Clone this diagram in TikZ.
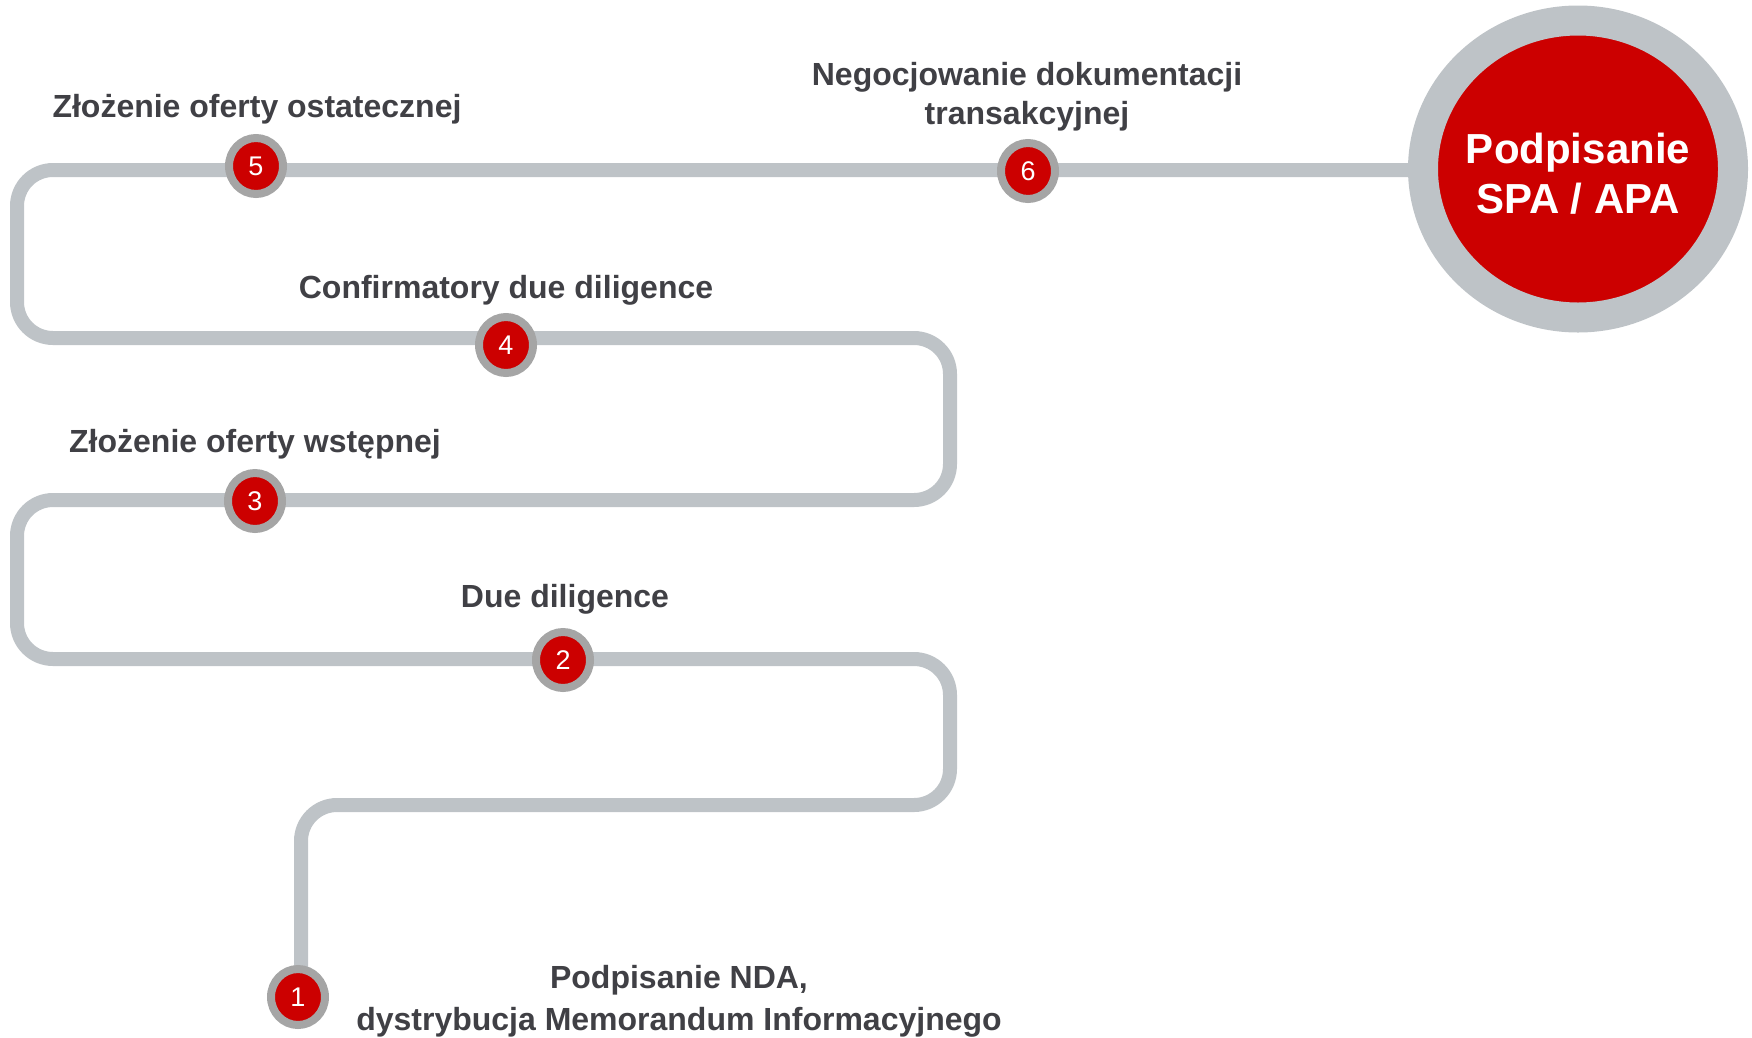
\documentclass[tikz,border=0pt]{standalone}
\usepackage{fontspec}
\setmainfont{Liberation Sans}
\usetikzlibrary{shapes.geometric,backgrounds}
\definecolor{trackgray}{HTML}{BEC3C7}
\definecolor{ringgray}{HTML}{A5A5A5}
\definecolor{stepred}{HTML}{CC0000}
\definecolor{labelgray}{HTML}{404045}
\tikzset{
  track/.style={draw=trackgray, line width=14pt, rounded corners=36pt},
  stepdot/.style={ellipse, draw=ringgray, fill=stepred, line width=8pt,
    minimum width=54pt, minimum height=56pt, inner sep=0pt,
    text=white, font=\fontsize{27}{27}\selectfont},
  bigdot/.style={ellipse, draw=trackgray, fill=stepred, line width=30pt,
    minimum width=310pt, minimum height=297pt, inner sep=0pt},
  steplabel/.style={anchor=base, inner sep=0pt, text=labelgray,
    font=\fontsize{32}{39}\selectfont\bfseries},
  biglabel/.style={anchor=base, inner sep=0pt, text=white,
    font=\fontsize{42}{50}\selectfont\bfseries}
}
\begin{document}
\begin{tikzpicture}[x=1pt,y=-1pt]
\useasboundingbox (0,0) rectangle (1752,1037);
% steps
\node[stepdot] (c1) at (298,997) {1};
\node[stepdot] (c2) at (563,660) {2};
\node[stepdot] (c3) at (255,501) {3};
\node[stepdot] (c4) at (506,345) {4};
\node[stepdot] (c5) at (256,166) {5};
\node[stepdot] (c6) at (1028,171) {6};
\node[bigdot] (big) at (1578,169) {};
% track
\coordinate (t0) at (301,997);
\coordinate (k1) at (301,805);
\coordinate (k2) at (950,805);
\coordinate (k3) at (950,659);
\coordinate (k4) at (17,659);
\coordinate (k5) at (17,500);
\coordinate (k6) at (950,500);
\coordinate (k7) at (950,338);
\coordinate (k8) at (17,338);
\coordinate (k9) at (17,170);
\coordinate (t1) at (1500,170);
\begin{pgfonlayer}{background}
\draw[track] (t0) -- (k1) -- (k2) -- (k3) -- (k4) -- (k5) -- (k6) -- (k7) -- (k8) -- (k9) -- (t1);
\end{pgfonlayer}
% big circle text
\node[biglabel] (bigA) at (1578,163) {Podpisanie};
\node[biglabel] (bigB) at (1578,213) {SPA / APA};
% labels
\node[steplabel] (l5) at (257,117) {Złożenie oferty ostatecznej};
\node[steplabel] (l6a) at (1027,85) {Negocjowanie dokumentacji};
\node[steplabel] (l6b) at (1027,124) {transakcyjnej};
\node[steplabel] (l4) at (506,298) {Confirmatory due diligence};
\node[steplabel] (l3) at (255,452) {Złożenie oferty wstępnej};
\node[steplabel] (l2) at (565,607) {Due diligence};
\node[steplabel] (l1a) at (679,988) {Podpisanie NDA,};
\node[steplabel] (l1b) at (679,1030) {dystrybucja  Memorandum Informacyjnego};
\end{tikzpicture}
\end{document}
